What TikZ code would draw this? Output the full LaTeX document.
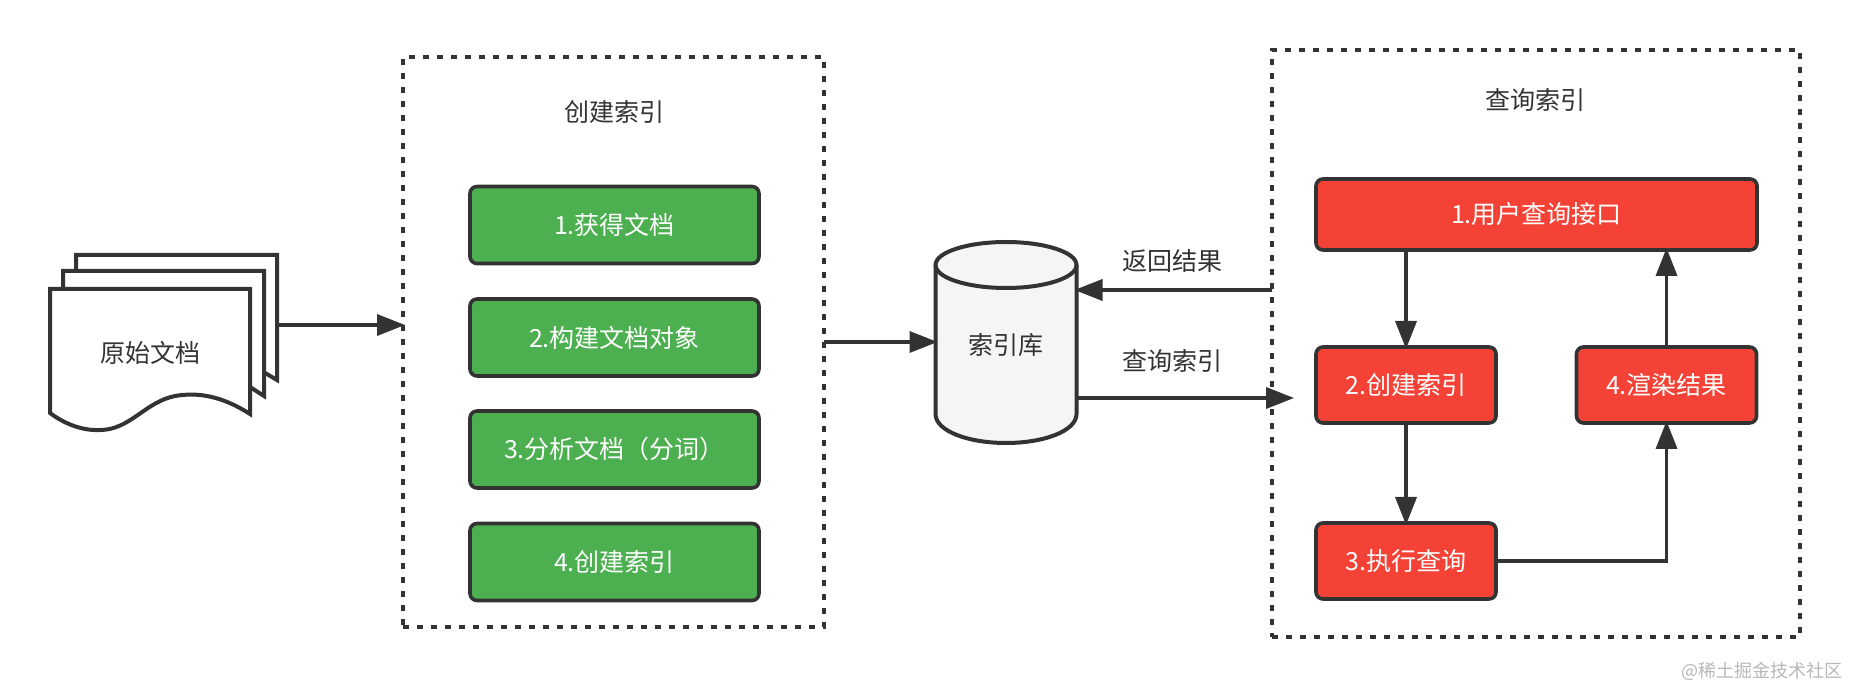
\documentclass[tikz,border=0pt]{standalone}
\usepackage{fontspec}
\setmainfont{Noto Sans CJK SC}
\usetikzlibrary{arrows.meta}
\definecolor{ink}{HTML}{333333}
\definecolor{gfill}{HTML}{4CAF50}
\definecolor{rfill}{HTML}{F44336}
\definecolor{dbfill}{HTML}{F5F5F5}
\tikzset{
  every node/.style={inner sep=0pt,outer sep=0pt,font=\fontsize{12.5pt}{15pt}\selectfont,text=ink},
  dashbox/.style={draw=ink,line width=2pt,dash pattern=on 3pt off 4pt,minimum width=#1},
  greenbox/.style={draw=ink,line width=1.8pt,fill=gfill,rounded corners=3.5pt,text=white,minimum width=144.5pt,minimum height=38.5pt},
  redbox/.style={draw=ink,line width=1.8pt,fill=rfill,rounded corners=3.5pt,text=white,minimum height=38pt},
  link/.style={draw=ink,line width=1.8pt,-{Triangle[length=14pt,width=10.5pt]},shorten >=-1pt},
  sheet/.style={draw=ink,line width=2pt,fill=white,line join=miter},
}
\begin{document}
\begin{tikzpicture}[x=0.5pt,y=-0.5pt]
\useasboundingbox[fill=white] (0,0) rectangle (1850,688);
% dashed frames
\node[dashbox=210.5pt,minimum height=285pt] (lbox) at (613.5,342) {};
\node[dashbox=264pt,minimum height=293.5pt] (rbox) at (1536,343.5) {};
\node (ltitle) at (614,112) {创建索引};
\node (rtitle) at (1535,100) {查询索引};
% green
\node[greenbox] (g1) at (614.5,225) {1.获得文档};
\node[greenbox] (g2) at (614.5,337.5) {2.构建文档对象};
\node[greenbox] (g3) at (614.5,449.5) {3.分析文档（分词）};
\node[greenbox] (g4) at (614.5,562) {4.创建索引};
% red
\node[redbox,minimum width=220.5pt,minimum height=35.5pt] (r1) at (1536.5,214.5) {1.用户查询接口};
\node[redbox,minimum width=90pt] (r2) at (1406,385) {2.创建索引};
\node[redbox,minimum width=90pt] (r4) at (1666.5,385) {4.渲染结果};
\node[redbox,minimum width=90pt] (r3) at (1406,561) {3.执行查询};
% source documents
\draw[sheet] (76,289) -- (76,255) -- (277,255) -- (277,380) -- (250,364);
\draw[sheet] (63,289) -- (63,271) -- (264,271) -- (264,396) -- (250,387);
\draw[sheet] (50,289) -- (250,289) -- (250,414)
  .. controls (222,396) and (198,392) .. (175,396)
  .. controls (145,402) and (130,430) .. (100,430)
  .. controls (80,431) and (62,422) .. (50,413) -- cycle;
\node[minimum width=113.5pt,minimum height=87.5pt] (docs) at (163.5,342.5) {};
\node (doctext) at (150,353) {原始文档};
% index database
\draw[draw=ink,line width=2pt,fill=dbfill]
  (935.5,265) -- (935.5,414) .. controls (935.5,431) and (968,443) .. (1006,443)
  .. controls (1044,443) and (1076.5,431) .. (1076.5,414) -- (1076.5,265)
  .. controls (1076.5,252) and (1044,242) .. (1006,242)
  .. controls (968,242) and (935.5,252) .. (935.5,265) -- cycle;
\draw[draw=ink,line width=2pt]
  (935.5,265) .. controls (935.5,278) and (968,288) .. (1006,288)
  .. controls (1044,288) and (1076.5,278) .. (1076.5,265);
\node[minimum width=70.5pt,minimum height=100.5pt] (db) at (1006,342.5) {};
\node (dbtext) at (1006,345) {索引库};
% edge labels
\node (retlabel) at (1172,261) {返回结果};
\node (qlabel) at (1172,361) {查询索引};
\node[text=black!28,font=\fontsize{9pt}{11pt}\selectfont,anchor=east] (mark) at (1842,671) {@稀土掘金技术社区};
% connector ends
\coordinate (docout) at (docs.east |- 0,325);
\coordinate (lin) at (lbox.west |- 0,325);
\coordinate (rout) at (rbox.west |- 0,290);
\coordinate (dbin) at (db.east |- 0,290);
\coordinate (dbout) at (db.east |- 0,398);
\coordinate (rin) at ([xshift=10]rbox.west |- 0,398);
% connectors
\draw[link] (docout) -- (lin);
\draw[link] (lbox.east) -- (db.west |- lbox.east);
\draw[link] (rout) -- (dbin);
\draw[link] (dbout) -- (rin);
\draw[link] (r2.north |- r1.south) -- (r2.north);
\draw[link] (r2.south) -- (r3.north);
\draw[link] (r3.east) -| (r4.south);
\draw[link] (r4.north) -- (r4.north |- r1.south);
\end{tikzpicture}
\end{document}
